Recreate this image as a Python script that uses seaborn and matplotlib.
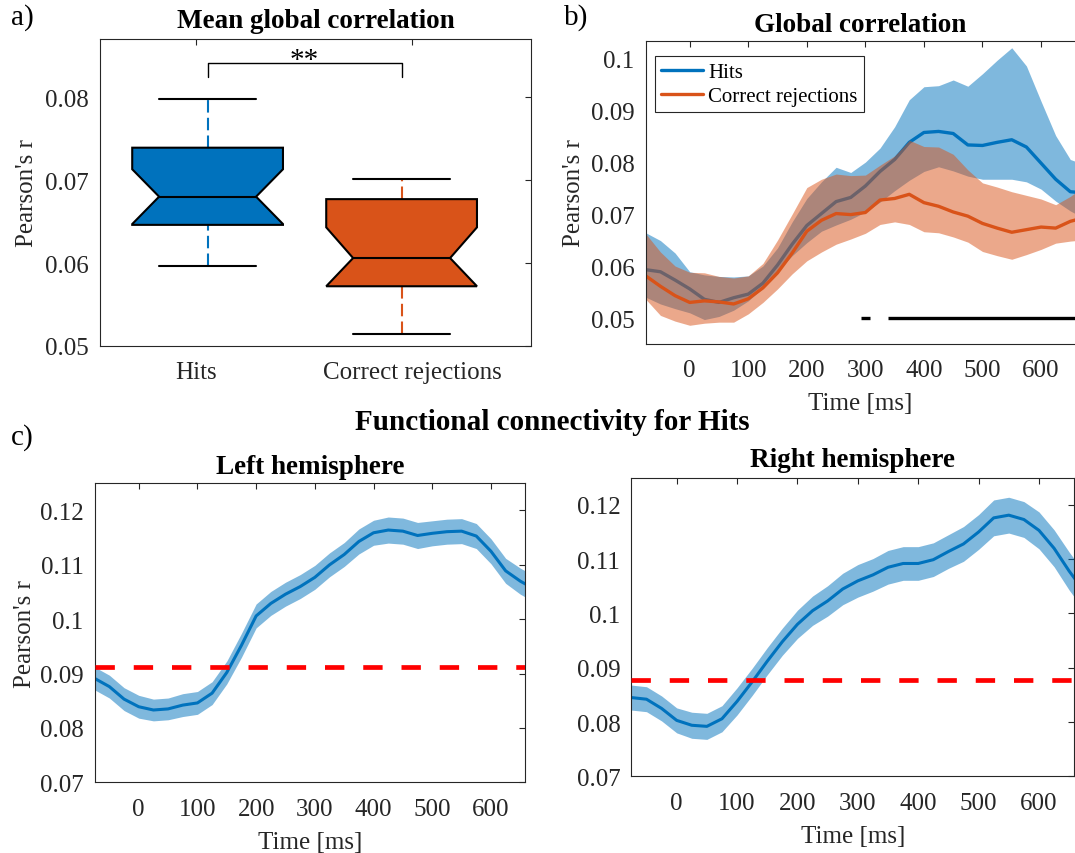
import numpy as np
import pandas as pd
import matplotlib
matplotlib.use("Agg")
import matplotlib.pyplot as plt
import seaborn as sns

# ---------------- data ----------------
box_labels = ["Hits", "Correct rejections"]
box_whislo = [0.0596, 0.0514]
box_q1 = [0.0646, 0.0572]
box_med = [0.0680, 0.0606]
box_q3 = [0.0739, 0.0677]
box_whishi = [0.0798, 0.0701]
box_notch_lo = [0.0647, 0.0572]
box_notch_hi = [0.0713, 0.0643]

time_ms = [-75, -50, -25, 0, 25, 50, 75, 100, 125, 150, 175, 200, 225, 250, 275, 300,
           325, 350, 375, 400, 425, 450, 475, 500, 525, 550, 575, 600, 625, 650, 660]

hits_mean = [0.0593, 0.0589, 0.0573, 0.0556, 0.0536, 0.0530, 0.0539, 0.0546, 0.0567, 0.0602,
             0.0642, 0.0678, 0.0701, 0.0724, 0.0732, 0.0754, 0.0782, 0.0805, 0.0838, 0.0857,
             0.0859, 0.0855, 0.0833, 0.0832, 0.0838, 0.0843, 0.0829, 0.0798, 0.0767, 0.0743, 0.0742]
hits_upper = [0.0664, 0.0649, 0.0625, 0.0589, 0.0583, 0.0580, 0.0579, 0.0581, 0.0600, 0.0635,
              0.0685, 0.0730, 0.0762, 0.0790, 0.0780, 0.0800, 0.0827, 0.0868, 0.0920, 0.0945,
              0.0947, 0.0958, 0.0946, 0.0970, 0.0996, 0.1020, 0.0985, 0.0917, 0.0851, 0.0805, 0.0801]
hits_lower = [0.0540, 0.0527, 0.0518, 0.0510, 0.0497, 0.0503, 0.0515, 0.0533, 0.0558, 0.0590,
              0.0620, 0.0645, 0.0667, 0.0679, 0.0690, 0.0704, 0.0723, 0.0745, 0.0765, 0.0782,
              0.0791, 0.0783, 0.0773, 0.0767, 0.0767, 0.0767, 0.0762, 0.0748, 0.0725, 0.0706, 0.0700]

cr_mean = [0.0581, 0.0561, 0.0543, 0.0530, 0.0533, 0.0531, 0.0527, 0.0537, 0.0558, 0.0587,
           0.0625, 0.0667, 0.0688, 0.0701, 0.0699, 0.0703, 0.0727, 0.0730, 0.0738, 0.0722,
           0.0715, 0.0704, 0.0696, 0.0682, 0.0673, 0.0665, 0.0670, 0.0675, 0.0673, 0.0686, 0.0689]
cr_upper = [0.0662, 0.0627, 0.0600, 0.0588, 0.0587, 0.0580, 0.0577, 0.0581, 0.0605, 0.0650,
            0.0700, 0.0751, 0.0767, 0.0777, 0.0774, 0.0775, 0.0794, 0.0812, 0.0842, 0.0830,
            0.0829, 0.0815, 0.0785, 0.0760, 0.0752, 0.0743, 0.0736, 0.0729, 0.0718, 0.0734, 0.0742]
cr_lower = [0.0536, 0.0505, 0.0494, 0.0486, 0.0490, 0.0492, 0.0492, 0.0508, 0.0530, 0.0556,
            0.0585, 0.0610, 0.0627, 0.0642, 0.0652, 0.0663, 0.0680, 0.0685, 0.0680, 0.0666,
            0.0664, 0.0656, 0.0646, 0.0628, 0.0620, 0.0613, 0.0622, 0.0632, 0.0644, 0.0648, 0.0649]

sig_start = [292, 339]
sig_end = [308, 660]
sig_level = 0.05

left_mean = [0.0891, 0.0876, 0.0853, 0.0839, 0.0833, 0.0835, 0.0842, 0.0846, 0.0864, 0.0902,
             0.0952, 0.1006, 0.1029, 0.1046, 0.1060, 0.1077, 0.1100, 0.1119, 0.1143, 0.1159,
             0.1164, 0.1162, 0.1154, 0.1158, 0.1161, 0.1162, 0.1153, 0.1125, 0.1089, 0.1070, 0.1064]
left_err = [0.0021, 0.0021, 0.0021, 0.0021, 0.0020, 0.0020, 0.0021, 0.0021, 0.0021, 0.0021,
            0.0022, 0.0022, 0.0022, 0.0022, 0.0022, 0.0022, 0.0022, 0.0022, 0.0023, 0.0023,
            0.0024, 0.0024, 0.0024, 0.0023, 0.0023, 0.0023, 0.0023, 0.0023, 0.0023, 0.0024, 0.0024]
left_threshold = 0.0912

right_mean = [0.0845, 0.0842, 0.0825, 0.0803, 0.0794, 0.0792, 0.0806, 0.0838, 0.0874, 0.0912,
              0.0948, 0.0980, 0.1005, 0.1023, 0.1045, 0.1060, 0.1071, 0.1085, 0.1092, 0.1092,
              0.1099, 0.1114, 0.1128, 0.1150, 0.1176, 0.1181, 0.1173, 0.1153, 0.1120, 0.1078, 0.1063]
right_err = [0.0023, 0.0023, 0.0023, 0.0023, 0.0024, 0.0024, 0.0024, 0.0025, 0.0025, 0.0025,
             0.0025, 0.0026, 0.0027, 0.0028, 0.0029, 0.0030, 0.0030, 0.0031, 0.0031, 0.0031,
             0.0031, 0.0031, 0.0032, 0.0032, 0.0033, 0.0033, 0.0033, 0.0034, 0.0034, 0.0035, 0.0035]
right_threshold = 0.0877

# ---------------- style ----------------
sns.set_style("white")
plt.rcParams["font.family"] = ["Liberation Serif", "DejaVu Serif"]
plt.rcParams.update({
    "axes.edgecolor": "#262626",
    "axes.linewidth": 0.8,
    "xtick.color": "#262626",
    "ytick.color": "#262626",
    "xtick.labelcolor": "#262626",
    "ytick.labelcolor": "#262626",
    "axes.labelcolor": "#262626",
    "text.color": "black",
})

BLUE = "#0072BD"
ORANGE = "#D95319"
TICK_FS = 18
TITLE_FS = 19.5
W, H = 1075, 854

fig = plt.figure(figsize=(W / 100, H / 100), dpi=100)


def add_ax(left, top, right, bottom):
    return fig.add_axes([left / W, 1 - bottom / H, (right - left) / W, (bottom - top) / H])


def style_ax(ax, right_spine=True):
    ax.tick_params(axis="both", which="both", direction="in", length=4, width=0.8,
                   labelsize=TICK_FS, top=True, right=right_spine)
    ax.tick_params(axis="x", pad=11)
    ax.tick_params(axis="y", pad=8)
    for s in ax.spines.values():
        s.set_visible(True)
        s.set_color("#262626")
        s.set_linewidth(0.8)
    if not right_spine:
        ax.spines["right"].set_visible(False)


ax_a = add_ax(100, 40, 531, 347)
ax_b = add_ax(645.8, 42, 1075, 345)
ax_cl = add_ax(94.7, 484.3, 525, 783.3)
ax_cr = add_ax(631.4, 478.7, 1074, 777.3)

# ---------------- panel a: notched boxes ----------------
box_pos = [1.0, 2.0]
tick_pos = [0.941, 2.053]
box_colors = [BLUE, ORANGE]
hw, nw, cw = 0.777 / 2, 0.5 / 2, 0.5 / 2
for i, p in enumerate(box_pos):
    q1, med, q3 = box_q1[i], box_med[i], box_q3[i]
    nlo, nhi = box_notch_lo[i], box_notch_hi[i]
    xs = [p - hw, p - hw, p - nw, p - hw, p - hw, p + hw, p + hw, p + nw, p + hw, p + hw, p - hw]
    ys = [q1, nlo, med, nhi, q3, q3, nhi, med, nlo, q1, q1]
    ax_a.fill(xs, ys, facecolor=box_colors[i], edgecolor="black", linewidth=1.5,
              joinstyle="miter", zorder=2)
    ax_a.plot([p - nw, p + nw], [med, med], color="black", lw=1.5, zorder=3)
    ax_a.plot([p, p], [q3, box_whishi[i]], color=box_colors[i], lw=1.5,
              linestyle=(0, (6, 2.5)), zorder=1)
    ax_a.plot([p, p], [box_whislo[i], q1], color=box_colors[i], lw=1.5,
              linestyle=(0, (6, 2.5)), zorder=1)
    ax_a.plot([p - cw, p + cw], [box_whishi[i], box_whishi[i]], color="black", lw=1.5, zorder=3)
    ax_a.plot([p - cw, p + cw], [box_whislo[i], box_whislo[i]], color="black", lw=1.5, zorder=3)

# significance bracket
ax_a.plot([box_pos[0], box_pos[0], box_pos[1], box_pos[1]],
          [0.08245, 0.08414, 0.08414, 0.08245], color="black", lw=1.0)
ax_a.text(np.mean(box_pos), 0.0836, "**", ha="center", va="baseline", fontsize=21)

ax_a.set_xlim(0.4454, 2.667)
ax_a.set_ylim(0.05, 0.087)
ax_a.set_xticks(tick_pos)
ax_a.set_xticklabels(box_labels)
ax_a.set_yticks([0.05, 0.06, 0.07, 0.08])
ax_a.set_yticklabels(["0.05", "0.06", "0.07", "0.08"])
style_ax(ax_a)
ax_a.set_ylabel("Pearson's r", fontsize=TICK_FS, labelpad=5)
ax_a.set_title("Mean global correlation", fontsize=TITLE_FS, fontweight="bold", pad=8.5)

# ---------------- panel b: global correlation ----------------
ax_b.fill_between(time_ms, hits_lower, hits_upper, color=BLUE, alpha=0.5, lw=0, zorder=1.0)
sns.lineplot(x=time_ms, y=hits_mean, ax=ax_b, color=BLUE, lw=2.4, label="Hits", zorder=1.1)
ax_b.fill_between(time_ms, cr_lower, cr_upper, color=ORANGE, alpha=0.5, lw=0, zorder=1.2)
sns.lineplot(x=time_ms, y=cr_mean, ax=ax_b, color=ORANGE, lw=2.4, label="Correct rejections",
             zorder=1.3)
ax_b.hlines([sig_level] * len(sig_start), sig_start, sig_end, color="black", lw=2.4, zorder=3)

ax_b.set_xlim(-75, 658)
ax_b.set_ylim(0.045, 0.1033)
ax_b.set_xticks([0, 100, 200, 300, 400, 500, 600])
ax_b.set_yticks([0.05, 0.06, 0.07, 0.08, 0.09, 0.1])
ax_b.set_yticklabels(["0.05", "0.06", "0.07", "0.08", "0.09", "0.1"])
style_ax(ax_b, right_spine=False)
ax_b.set_xlabel("Time [ms]", fontsize=TICK_FS, labelpad=8)
ax_b.set_ylabel("Pearson's r", fontsize=TICK_FS, labelpad=4)
ax_b.set_title("Global correlation", fontsize=TITLE_FS, fontweight="bold", pad=7.4)
leg = ax_b.legend(loc="upper left", bbox_to_anchor=(0.0214, 0.9495), borderaxespad=0,
                  fontsize=15, frameon=True, fancybox=False, framealpha=1,
                  edgecolor="#262626", handlelength=2.0, handletextpad=0.25,
                  labelspacing=0.2, borderpad=0.3)
leg.get_frame().set_linewidth(0.8)

# ---------------- panel c ----------------
def hemi(ax, mean, err, thr, title, ylabel, title_pad):
    m = np.array(mean)
    e = np.array(err)
    ax.fill_between(time_ms, m - e, m + e, color=BLUE, alpha=0.5, lw=0, zorder=1)
    sns.lineplot(x=time_ms, y=mean, ax=ax, color=BLUE, lw=2.2, zorder=2)
    ax.axhline(thr, color="red", lw=3.4, dashes=(4.1, 4.0), zorder=3)
    ax.set_xlim(-75, 658)
    ax.set_ylim(0.07, 0.125)
    ax.set_xticks([0, 100, 200, 300, 400, 500, 600])
    ax.set_yticks([0.07, 0.08, 0.09, 0.1, 0.11, 0.12])
    ax.set_yticklabels(["0.07", "0.08", "0.09", "0.1", "0.11", "0.12"])
    style_ax(ax)
    ax.set_xlabel("Time [ms]", fontsize=TICK_FS, labelpad=8)
    if ylabel:
        ax.set_ylabel(ylabel, fontsize=TICK_FS, labelpad=3)
    ax.set_title(title, fontsize=TITLE_FS, fontweight="bold", pad=title_pad)


hemi(ax_cl, left_mean, left_err, left_threshold, "Left hemisphere", "Pearson's r", 7.4)
hemi(ax_cr, right_mean, right_err, right_threshold, "Right hemisphere", None, 8.4)

# ---------------- figure texts ----------------
fig.text(22 / W, 1 - 18 / H, "a)", fontsize=21, ha="center", va="center")
fig.text(576 / W, 1 - 18 / H, "b)", fontsize=21, ha="center", va="center")
fig.text(22 / W, 1 - 438 / H, "c)", fontsize=21, ha="center", va="center")
fig.text(552 / W, 1 - 423 / H, "Functional connectivity for Hits", fontsize=21,
         fontweight="bold", ha="center", va="center")

fig.savefig("out.png", dpi=100)
